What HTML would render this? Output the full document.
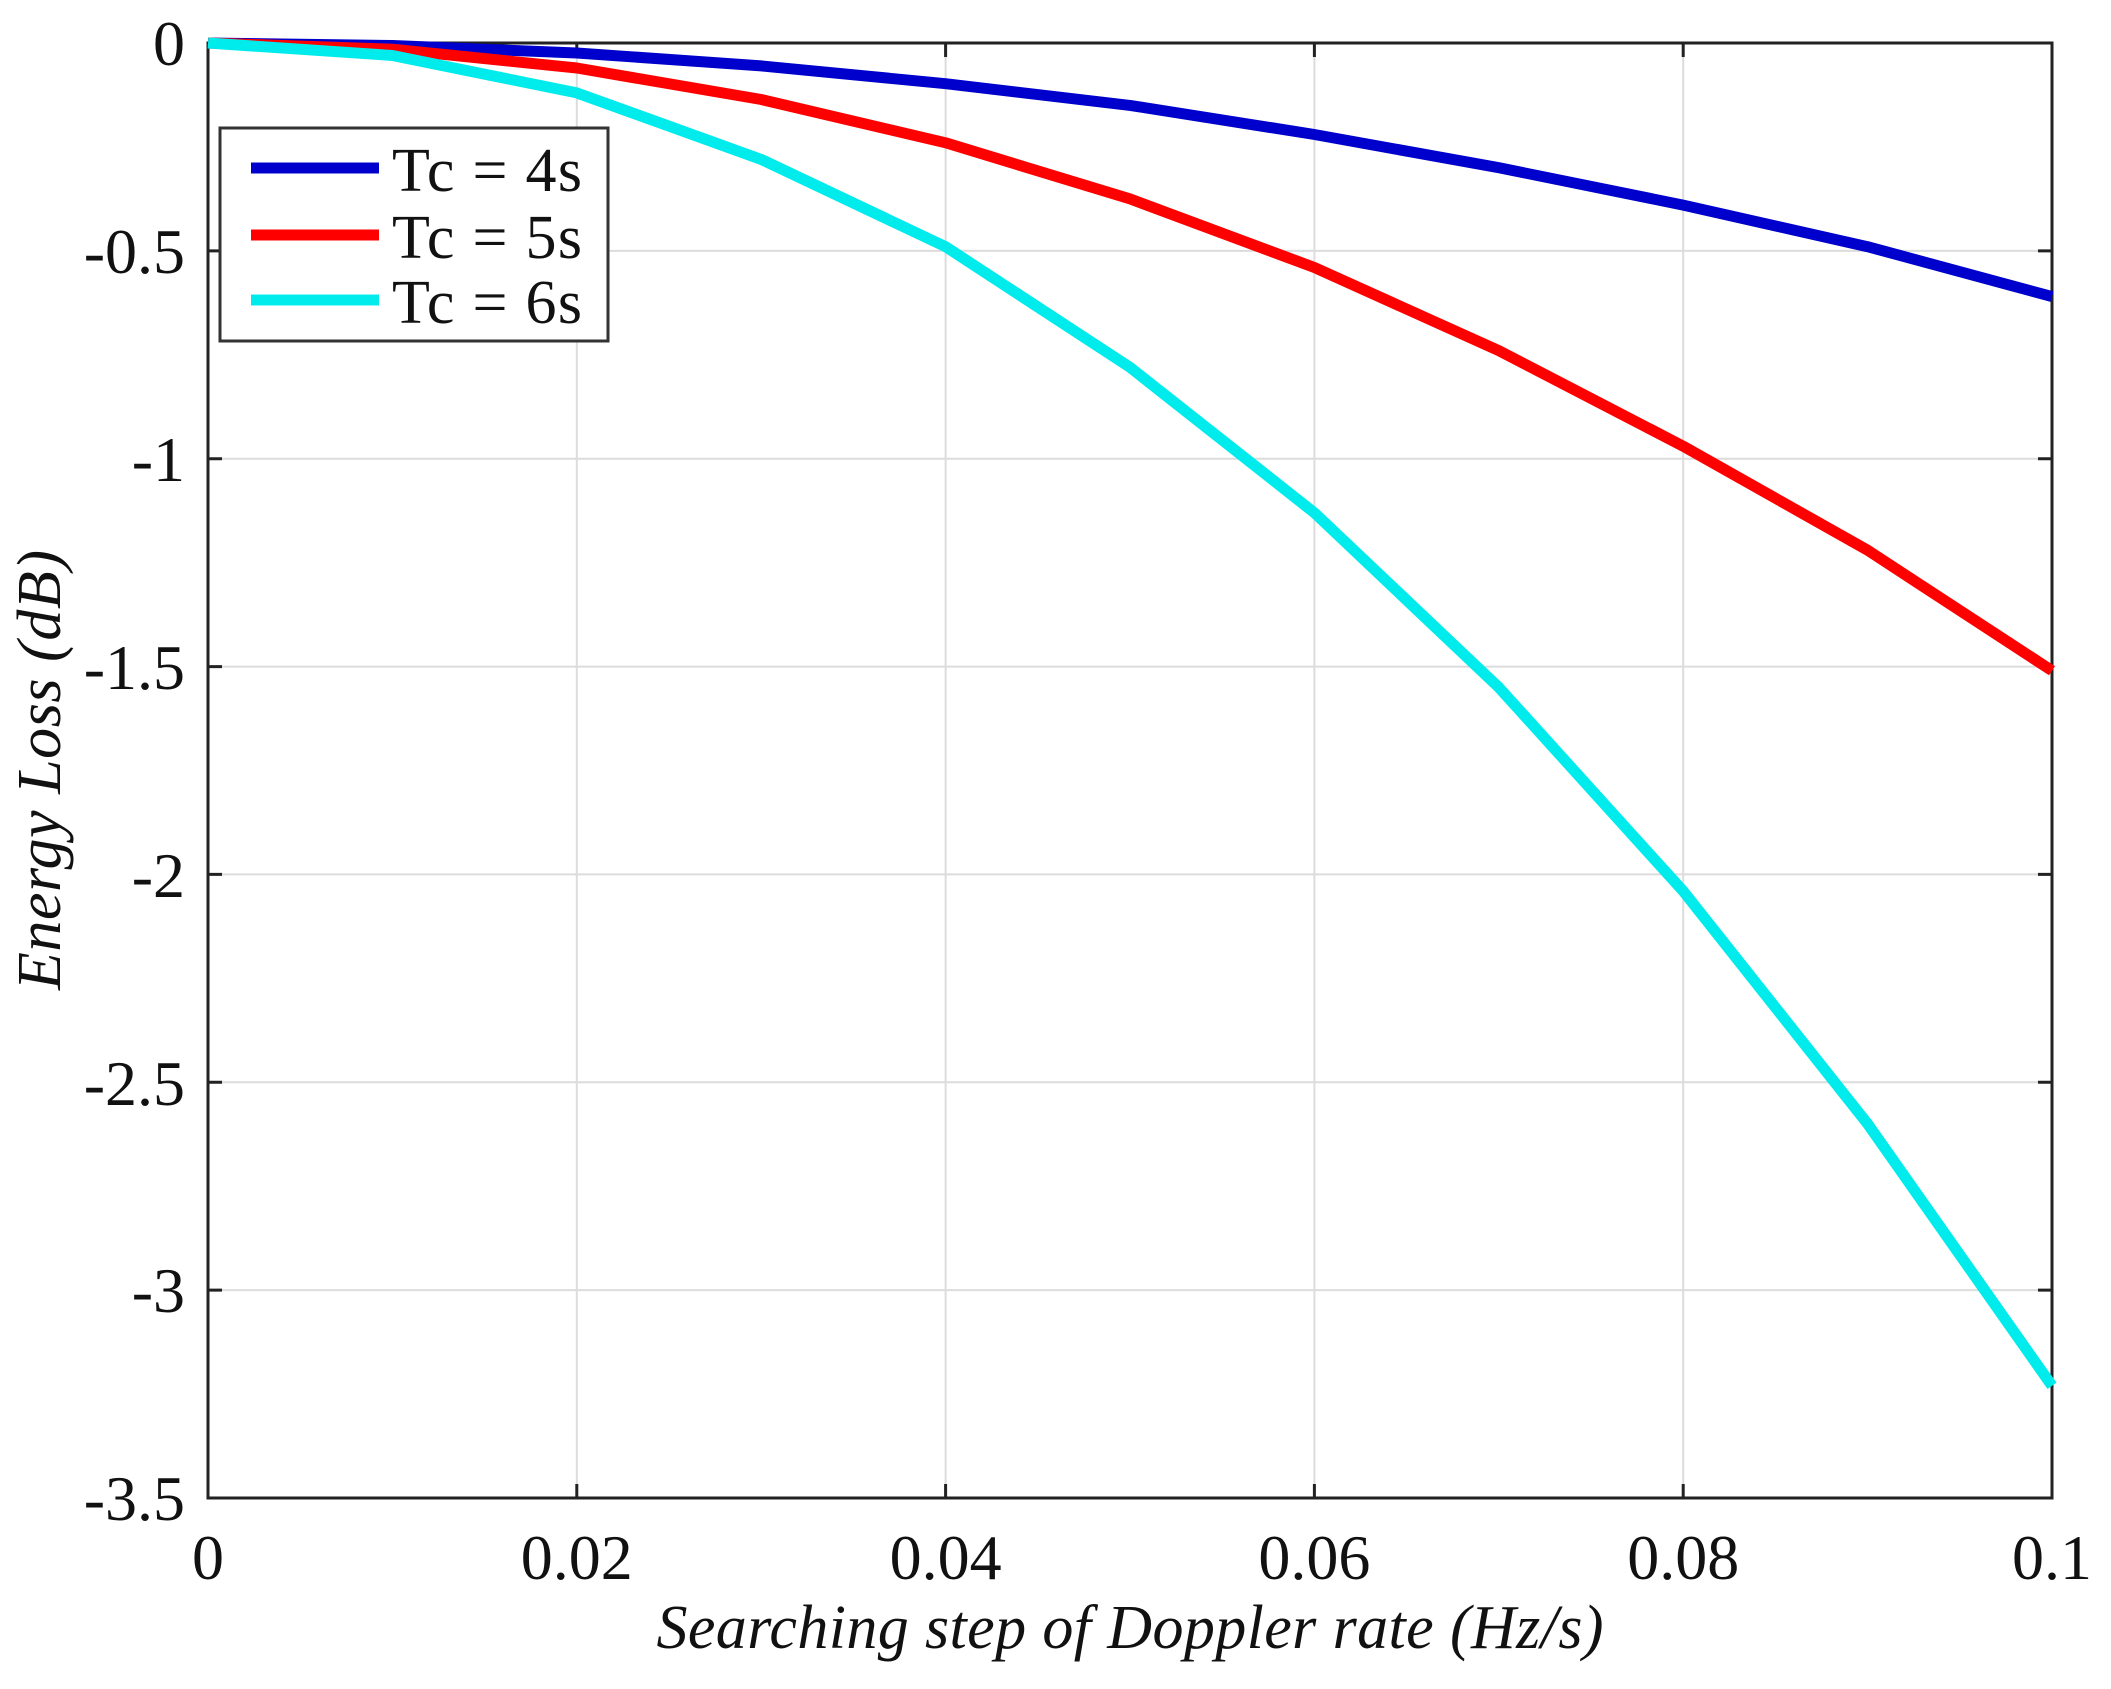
<!DOCTYPE html>
<html><head><meta charset="utf-8"><style>html,body{margin:0;padding:0;background:#fff}svg{display:block}</style></head>
<body>
<svg width="2111" height="1689" viewBox="0 0 2111 1689" xmlns="http://www.w3.org/2000/svg">
<rect width="2111" height="1689" fill="#fff"/>
<g stroke="#dcdcdc" stroke-width="2">
<line x1="576.8" y1="43" x2="576.8" y2="1498"/><line x1="945.6" y1="43" x2="945.6" y2="1498"/>
<line x1="1314.4" y1="43" x2="1314.4" y2="1498"/><line x1="1683.2" y1="43" x2="1683.2" y2="1498"/>
<line x1="208" y1="250.9" x2="2052" y2="250.9"/><line x1="208" y1="458.7" x2="2052" y2="458.7"/>
<line x1="208" y1="666.6" x2="2052" y2="666.6"/><line x1="208" y1="874.4" x2="2052" y2="874.4"/>
<line x1="208" y1="1082.3" x2="2052" y2="1082.3"/><line x1="208" y1="1290.1" x2="2052" y2="1290.1"/>
</g>
<g stroke="#222" stroke-width="3">
<path d="M208,250.9h14M208,458.7h14M208,666.6h14M208,874.4h14M208,1082.3h14M208,1290.1h14"/>
<path d="M2052,250.9h-14M2052,458.7h-14M2052,666.6h-14M2052,874.4h-14M2052,1082.3h-14M2052,1290.1h-14"/>
<path d="M576.8,1498v-14M945.6,1498v-14M1314.4,1498v-14M1683.2,1498v-14"/>
<path d="M576.8,43v14M945.6,43v14M1314.4,43v14M1683.2,43v14"/>
<rect x="208" y="43" width="1844" height="1455" fill="none"/>
</g>
<g fill="none" stroke-width="11" stroke-linejoin="round">
<polyline stroke="#0000cc" points="208,43 392.4,45.5 576.8,53 761.2,65.9 945.6,83.7 1130,105.4 1314.4,134.5 1498.8,167.7 1683.2,205.1 1867.6,246.7 2052,296.6"/>
<polyline stroke="#ff0000" points="208,43 392.4,49.2 576.8,68 761.2,99.5 945.6,142.8 1130,198.9 1314.4,267.5 1498.8,350.6 1683.2,446.2 1867.6,550.2 2052,670.7"/>
<polyline stroke="#00ecec" points="208,43 392.4,55.5 576.8,92.9 761.2,159.4 945.6,246.7 1130,367.3 1314.4,512.8 1498.8,687.4 1683.2,891.1 1867.6,1123.8 2052,1385.8"/>
</g>
<rect x="220" y="128" width="388" height="213" fill="#fff" stroke="#333" stroke-width="3"/>
<g stroke-width="11">
<line x1="251" y1="168" x2="379" y2="168" stroke="#0000cc"/>
<line x1="251" y1="235" x2="379" y2="235" stroke="#ff0000"/>
<line x1="251" y1="300" x2="379" y2="300" stroke="#00ecec"/>
</g>
<g font-family="Liberation Serif, serif" font-size="62" fill="#111">
<text x="392" y="191" textLength="190">Tc = 4s</text>
<text x="392" y="258" textLength="190">Tc = 5s</text>
<text x="392" y="323" textLength="190">Tc = 6s</text>
</g>
<g font-family="Liberation Serif, serif" font-size="64" fill="#111" text-anchor="end">
<text x="185" y="65">0</text><text x="185" y="273">-0.5</text><text x="185" y="481">-1</text>
<text x="185" y="689">-1.5</text><text x="185" y="897">-2</text><text x="185" y="1105">-2.5</text>
<text x="185" y="1312">-3</text><text x="185" y="1520">-3.5</text>
</g>
<g font-family="Liberation Serif, serif" font-size="64" fill="#111" text-anchor="middle">
<text x="208" y="1579">0</text><text x="576.8" y="1579">0.02</text><text x="945.6" y="1579">0.04</text>
<text x="1314.4" y="1579">0.06</text><text x="1683.2" y="1579">0.08</text><text x="2052" y="1579">0.1</text>
</g>
<text x="1130" y="1648" font-family="Liberation Serif, serif" font-style="italic" font-size="62" fill="#111" text-anchor="middle" textLength="947">Searching step of Doppler rate  (Hz/s)</text>
<text transform="translate(60,770) rotate(-90)" font-family="Liberation Serif, serif" font-style="italic" font-size="62" fill="#111" text-anchor="middle" textLength="440">Energy Loss (dB)</text>
</svg>
</body></html>
